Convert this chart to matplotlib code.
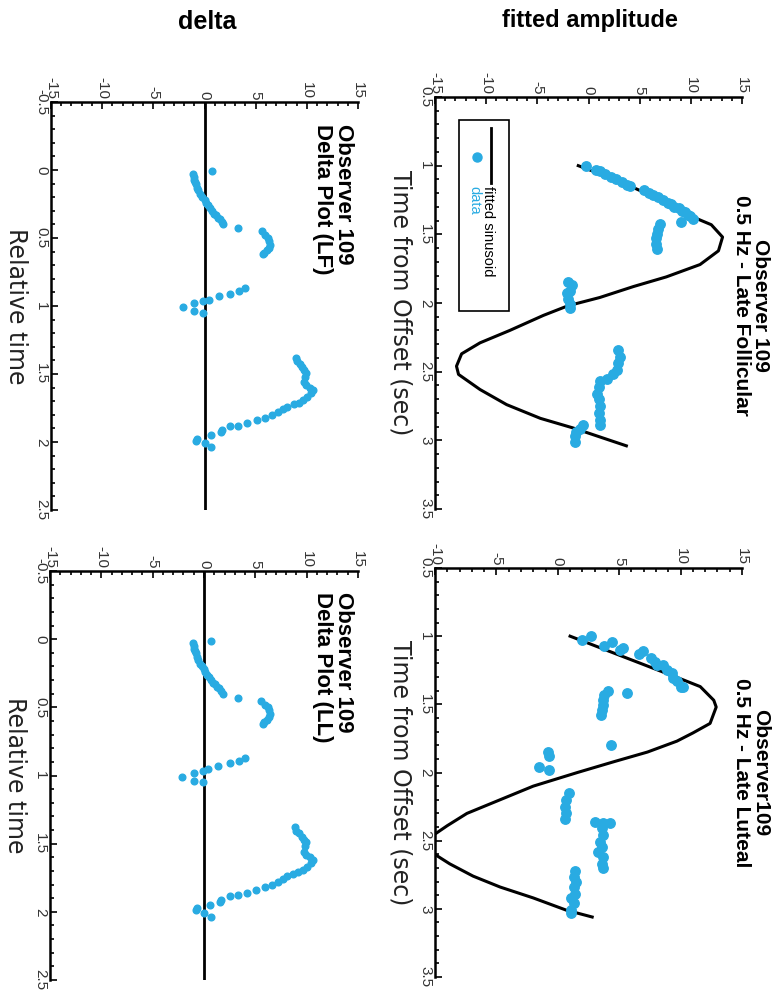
import matplotlib
matplotlib.use('Agg')
import matplotlib.pyplot as plt
from matplotlib.ticker import MultipleLocator, FuncFormatter
from matplotlib.patches import Rectangle
from matplotlib.lines import Line2D

plt.rcParams['axes.unicode_minus'] = False
plt.rcParams['font.family'] = ['Liberation Sans', 'DejaVu Sans']

BLUE = '#29ABE2'

# ---------------- data (amplitude, time) ----------------
# LF fitted sinusoid
lf_fit_t = [1.00, 1.10, 1.20, 1.30, 1.38, 1.43, 1.52, 1.62, 1.72, 1.81, 1.88, 1.96,
            2.02, 2.09, 2.20, 2.29, 2.37, 2.46, 2.52, 2.63, 2.74, 2.84, 2.91, 3.04]
lf_fit_a = [-1.0, 2.6, 5.6, 8.3, 10.4, 12.0, 13.1, 12.7, 10.9, 7.6, 4.4, 1.1,
            -2.0, -4.4, -7.7, -10.6, -12.4, -12.9, -12.7, -10.6, -8.0, -4.7, -1.5, 3.7]
# LF data
lf_data_t = [1.00, 1.03, 1.04, 1.06, 1.08, 1.10, 1.12, 1.14, 1.15, 1.18, 1.20, 1.21,
             1.23, 1.25, 1.27, 1.28, 1.30, 1.31, 1.33, 1.34, 1.36, 1.37, 1.39, 1.41,
             1.425, 1.46, 1.50, 1.53, 1.57, 1.605,
             1.85, 1.87, 1.91, 1.93, 1.97, 2.005, 2.04,
             2.34, 2.39, 2.44, 2.49, 2.52, 2.55, 2.57, 2.61, 2.66, 2.70, 2.75, 2.80, 2.85, 2.89,
             2.89, 2.92, 2.94, 2.97, 3.01]
lf_data_a = [-0.2, 0.7, 1.1, 1.6, 2.2, 2.7, 3.3, 3.8, 4.1, 5.4, 5.9, 6.3,
             6.8, 7.3, 7.8, 8.1, 8.4, 8.8, 9.1, 9.4, 9.7, 9.9, 10.2, 9.0,
             7.0, 6.8, 6.7, 6.6, 6.6, 6.7,
             -2.0, -1.6, -1.8, -2.1, -2.0, -1.8, -1.8,
             2.9, 3.1, 2.9, 2.75, 2.4, 1.8, 1.1, 1.0, 0.8, 1.0, 1.1, 1.0, 1.1, 1.1,
             -0.5, -0.8, -1.2, -1.3, -1.3]

# LL fitted sinusoid
ll_fit_t = [1.00, 1.32, 1.37, 1.47, 1.52, 1.64, 1.71, 1.77, 1.85, 1.92, 2.00, 2.10,
            2.20, 2.30, 2.39, 2.47, 2.54, 2.59, 2.67, 2.76, 2.84, 2.92, 3.01, 3.06]
ll_fit_a = [1.0, 10.2, 11.6, 12.7, 12.9, 12.4, 11.0, 9.7, 7.3, 4.6, 1.6, -2.0,
            -4.7, -7.4, -9.0, -10.3, -10.6, -10.2, -8.8, -6.9, -4.7, -2.0, 0.7, 2.8]
# LL data
ll_data_t = [1.03, 1.00, 1.07, 1.04, 1.10, 1.09, 1.13, 1.11, 1.16, 1.19, 1.21, 1.21,
             1.25, 1.27, 1.31, 1.33, 1.37, 1.37,
             1.42, 1.80,
             1.40, 1.43, 1.47, 1.505, 1.54, 1.58,
             1.85, 1.88, 1.96, 1.98,
             2.15, 2.20, 2.25, 2.30, 2.34,
             2.36, 2.37, 2.37, 2.41, 2.46, 2.51, 2.55, 2.58, 2.62, 2.67, 2.70,
             2.72, 2.77, 2.80, 2.84, 2.89, 2.92, 2.96, 3.01, 3.03]
ll_data_a = [2.0, 2.7, 3.8, 4.4, 5.1, 5.3, 6.6, 6.9, 7.6, 7.9, 8.1, 8.6,
             8.9, 9.3, 9.4, 9.7, 10.0, 10.2,
             5.6, 4.3,
             4.1, 3.8, 3.7, 3.65, 3.6, 3.5,
             -0.8, -0.7, -1.5, -0.7,
             0.9, 0.7, 0.6, 0.7, 0.6,
             3.0, 3.7, 4.25, 3.6, 3.7, 3.4, 3.6, 3.3, 3.7, 3.6, 3.7,
             1.4, 1.3, 1.5, 1.3, 1.4, 1.1, 1.3, 1.1, 1.05]

# Delta data (same in LF and LL plots)
delta_t = [0.01, 0.03, 0.05, 0.07, 0.09, 0.10, 0.13, 0.15, 0.18, 0.20, 0.22, 0.24,
           0.26, 0.28, 0.30, 0.32, 0.33, 0.35, 0.36, 0.38, 0.40, 0.43,
           0.45, 0.48, 0.50, 0.52, 0.55, 0.57, 0.59, 0.61, 0.62,
           0.87, 0.89, 0.91, 0.93, 0.955, 0.965, 0.98, 1.01, 1.04, 1.05,
           1.38, 1.405, 1.425, 1.45, 1.47, 1.49, 1.52, 1.56, 1.58, 1.60, 1.62, 1.64,
           1.67, 1.69, 1.71, 1.72, 1.74, 1.76, 1.78, 1.80, 1.82, 1.84, 1.86, 1.88,
           1.885, 1.91, 1.93, 1.95, 1.975, 1.99, 2.01, 2.04]
delta_a = [0.7, -1.1, -1.0, -1.0, -0.9, -0.8, -0.7, -0.6, -0.4, -0.2, 0.0, 0.1,
           0.3, 0.5, 0.7, 0.9, 1.1, 1.3, 1.5, 1.7, 1.85, 3.3,
           5.6, 5.9, 6.2, 6.3, 6.4, 6.3, 6.1, 5.8, 5.7,
           4.0, 3.4, 2.5, 1.4, 0.4, -0.1, -1.0, -2.1, -1.0, -0.1,
           8.9, 9.0, 9.3, 9.5, 9.7, 9.9, 9.8, 9.7, 9.9, 10.3, 10.6, 10.4,
           10.0, 9.6, 9.2, 8.7, 8.05, 7.65, 7.2, 6.6, 5.9, 5.1, 4.15, 3.3,
           2.5, 1.7, 1.6, 0.6, -0.7, -0.8, 0.0, 0.65]

# ---------------- figure ----------------
W, H = 782, 999
fig = plt.figure(figsize=(W / 100, H / 100), dpi=100)


def fx(px):
    return px / W


def fy(py):
    return 1 - py / H


def make_ax(left, top, right, bottom):
    return fig.add_axes([fx(left), fy(bottom), fx(right) - fx(left), fy(top) - fy(bottom)])


fmt = FuncFormatter(lambda v, p: f'{v:g}')


def style(ax, xlim, tlim, ylabel):
    ax.set_xlim(*xlim)
    ax.set_ylim(tlim[1], tlim[0])
    ax.patch.set_alpha(0)
    for s in ('right', 'bottom'):
        ax.spines[s].set_visible(False)
    for s in ('top', 'left'):
        ax.spines[s].set_linewidth(1.8)
    ax.xaxis.tick_top()
    ax.xaxis.set_major_locator(MultipleLocator(5))
    ax.xaxis.set_minor_locator(MultipleLocator(1))
    ax.yaxis.set_major_locator(MultipleLocator(0.5))
    ax.yaxis.set_minor_locator(MultipleLocator(0.1))
    ax.xaxis.set_major_formatter(fmt)
    ax.yaxis.set_major_formatter(fmt)
    ax.tick_params(which='both', direction='in', top=True, bottom=False, left=True, right=False,
                   width=1.2, colors='black')
    ax.tick_params(which='major', length=5)
    ax.tick_params(which='minor', length=3)
    ax.tick_params(axis='x', labelrotation=-90, pad=2, labelsize=11, labelcolor='#333333')
    ax.tick_params(axis='y', labelrotation=-90, pad=2, labelsize=11, labelcolor='#333333')
    for lab in ax.get_yticklabels():
        lab.set_va('center')
    ax.set_ylabel(ylabel, rotation=-90, ha='center', va='center', fontsize=17,
                  family='DejaVu Sans', color='#222222')
    ax.yaxis.set_label_coords(-0.114, 0.5)


# LF fitted (upper right)
ax1 = make_ax(435, 97, 742, 509)
style(ax1, (-15, 15), (0.5, 3.5), 'Time from Offset (sec)')
ax1.plot(lf_fit_a, lf_fit_t, color='black', lw=2.2)
ax1.plot(lf_data_a, lf_data_t, 'o', color=BLUE, ms=6.8, mec=BLUE)

# LL fitted (lower right)
ax2 = make_ax(435, 568, 742, 977)
style(ax2, (-10, 15), (0.5, 3.5), 'Time from Offset (sec)')
ax2.plot(ll_fit_a, ll_fit_t, color='black', lw=2.2)
ax2.plot(ll_data_a, ll_data_t, 'o', color=BLUE, ms=6.8, mec=BLUE)

# LF delta (upper left)
ax3 = make_ax(51, 102, 358, 510)
style(ax3, (-15, 15), (-0.5, 2.5), 'Relative time')
ax3.axvline(0, color='black', lw=2)
ax3.plot(delta_a, delta_t, 'o', color=BLUE, ms=4.8, mec=BLUE)

# LL delta (lower left)
ax4 = make_ax(50, 571, 358, 980)
style(ax4, (-15, 15), (-0.5, 2.5), 'Relative time')
ax4.axvline(0, color='black', lw=2)
ax4.plot(delta_a, delta_t, 'o', color=BLUE, ms=4.8, mec=BLUE)

# titles
fig.text(fx(751), fy(305), 'Observer 109\n0.5 Hz - Late Follicular', rotation=-90,
         ha='center', va='center', multialignment='center', fontsize=15,
         fontweight='bold', linespacing=1.05)
fig.text(fx(751), fy(773), 'Observer109\n0.5 Hz - Late Luteal', rotation=-90,
         ha='center', va='center', multialignment='center', fontsize=15,
         fontweight='bold', linespacing=1.05)
fig.text(fx(354), fy(124), 'Observer 109\nDelta Plot (LF)', rotation=-90,
         ha='right', va='top', multialignment='left', fontsize=16,
         fontweight='bold', linespacing=1.0)
fig.text(fx(354), fy(592), 'Observer 109\nDelta Plot (LL)', rotation=-90,
         ha='right', va='top', multialignment='left', fontsize=16,
         fontweight='bold', linespacing=1.0)

fig.text(fx(590), fy(20), 'fitted amplitude', ha='center', va='center', fontsize=17,
         fontweight='bold')
fig.text(fx(207), fy(22), 'delta', ha='center', va='center', fontsize=18,
         fontweight='bold')

# legend (LF fitted panel)
fig.add_artist(Rectangle((fx(459), fy(311)), fx(509) - fx(459), fy(120) - fy(311),
                         transform=fig.transFigure, fill=False, lw=1.2, ec='black'))
fig.add_artist(Line2D([fx(491), fx(491)], [fy(128), fy(183)], transform=fig.transFigure,
                      color='black', lw=2))
fig.add_artist(Line2D([fx(477)], [fy(157)], transform=fig.transFigure, marker='o',
                      ms=6.5, color=BLUE, ls='none'))
fig.text(fx(488), fy(186), 'fitted sinusoid', rotation=-90, ha='center', va='top',
         fontsize=10.5, color='black')
fig.text(fx(474), fy(186), 'data', rotation=-90, ha='center', va='top',
         fontsize=10.5, color=BLUE)

fig.savefig('out.png', dpi=100)
